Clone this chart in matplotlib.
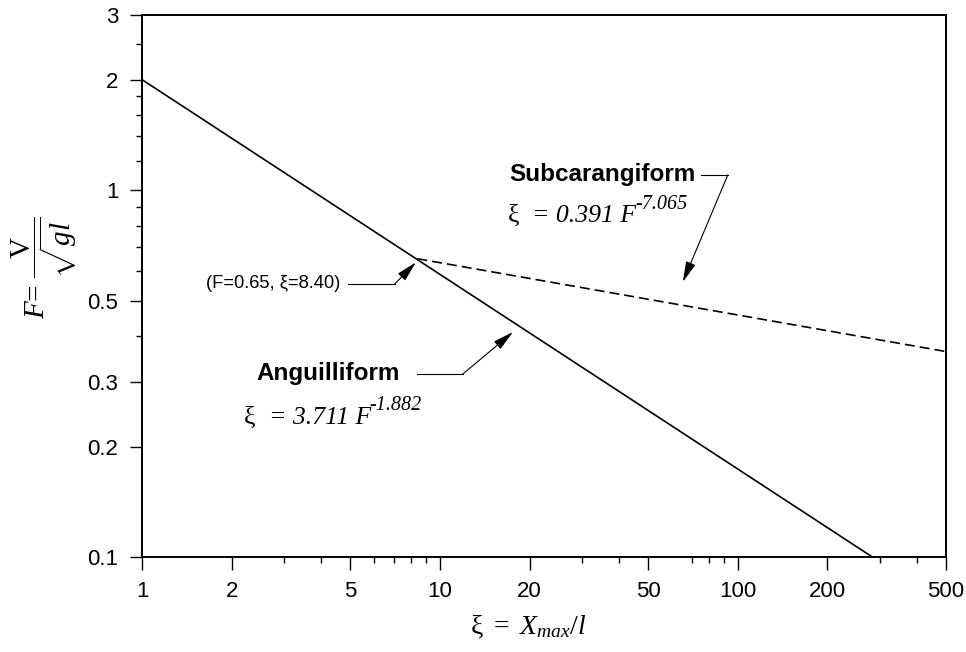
import numpy as np
import matplotlib
matplotlib.use('Agg')
import matplotlib.pyplot as plt

# data (straight lines on log-log axes)
angu_xi = [1.0, 283.0]
angu_F = [2.0, 0.1]
subc_xi = [8.4, 500.0]
subc_F = [0.65, 0.363]

x_major = [1, 2, 5, 10, 20, 50, 100, 200, 500]
x_minor = [3, 4, 6, 7, 8, 9, 30, 40, 70, 80, 90, 300, 400]
y_major = [0.1, 0.2, 0.3, 0.5, 1, 2, 3]
y_minor = [0.4, 0.6, 0.7, 0.8, 0.9, 1.2, 1.4, 1.6, 1.8, 2.5]

plt.rcParams['font.family'] = ['Liberation Sans', 'DejaVu Sans']
plt.rcParams['mathtext.fontset'] = 'custom'
plt.rcParams['mathtext.rm'] = 'Liberation Serif'
plt.rcParams['mathtext.it'] = 'Liberation Serif:italic'
plt.rcParams['mathtext.bf'] = 'Liberation Serif:bold'

fig = plt.figure(figsize=(9.66, 6.52), dpi=100)
ax = fig.add_axes([142/966, 1-557/652, 804/966, 542/652])

ax.plot(angu_xi, angu_F, color='k', lw=1.2)
ax.plot(subc_xi, subc_F, color='k', lw=1.2, dashes=(6, 3))

ax.set_xscale('log')
ax.set_yscale('log')
ax.set_xlim(1, 500)
ax.set_ylim(0.1, 3)

ax.set_xticks(x_major)
ax.set_xticklabels([str(v) for v in x_major])
ax.set_xticks(x_minor, minor=True)
ax.set_xticklabels([], minor=True)
ax.set_yticks(y_major)
ax.set_yticklabels([f'{v:g}' for v in y_major])
ax.set_yticks(y_minor, minor=True)
ax.set_yticklabels([], minor=True)

ax.tick_params(which='major', direction='out', length=9, width=1.0, labelsize=16, pad=8)
ax.tick_params(which='minor', direction='out', length=4.5, width=1.0)
for s in ax.spines.values():
    s.set_linewidth(1.4)

# axis labels
fig.text(528/966, 1-627/652, r'$\mathrm{\xi}\ =\ X_{max}/l$', fontsize=20,
         ha='center', va='center')
fig.text(45/966, 1-268/652, r'$F$= $\dfrac{\mathrm{V}}{\sqrt{gl}}$', fontsize=21,
         family='Liberation Serif', rotation=90, ha='center', va='center')

# annotations
arr = dict(arrowstyle='-|>,head_length=0.9,head_width=0.22', lw=0.8, color='k',
           mutation_scale=14, shrinkA=0, shrinkB=0)


def formula(x, y, coef, expo):
    t1 = ax.text(x, y, 'ξ', fontsize=18.5, family='Liberation Serif', ha='left', va='center')
    t2 = ax.annotate('  = ' + coef + ' F', xy=(1.0, 0.0), xycoords=t1, ha='left', va='bottom',
                     fontsize=18.5, family='Liberation Serif', style='italic')
    ax.annotate(expo, xy=(0.99, 0.6), xycoords=t2, ha='left', va='bottom', fontsize=14.5,
                family='Liberation Serif', style='italic')


ax.text(72, 1.1, 'Subcarangiform', fontsize=17.5, fontweight='bold', ha='right', va='center')
formula(16.9, 0.85, '0.391', '-7.065')
ax.plot([75, 92.6], [1.1, 1.1], color='k', lw=0.8)
ax.annotate('', xy=(65.4, 0.562), xytext=(92.6, 1.1), arrowprops=arr)

ax.text(4.62, 0.555, '(F=0.65, ξ=8.40)', fontsize=13.2, ha='right', va='center')
ax.plot([4.91, 7.06], [0.555, 0.555], color='k', lw=0.8)
ax.annotate('', xy=(8.3, 0.635), xytext=(7.06, 0.555), arrowprops=arr)

ax.text(7.34, 0.316, 'Anguilliform', fontsize=17.5, fontweight='bold', ha='right', va='center')
formula(2.2, 0.24, '3.711', '-1.882')
ax.plot([8.37, 11.95], [0.3155, 0.3155], color='k', lw=0.8)
ax.annotate('', xy=(17.58, 0.41), xytext=(11.95, 0.3155), arrowprops=arr)

fig.savefig('out.png', dpi=100)
